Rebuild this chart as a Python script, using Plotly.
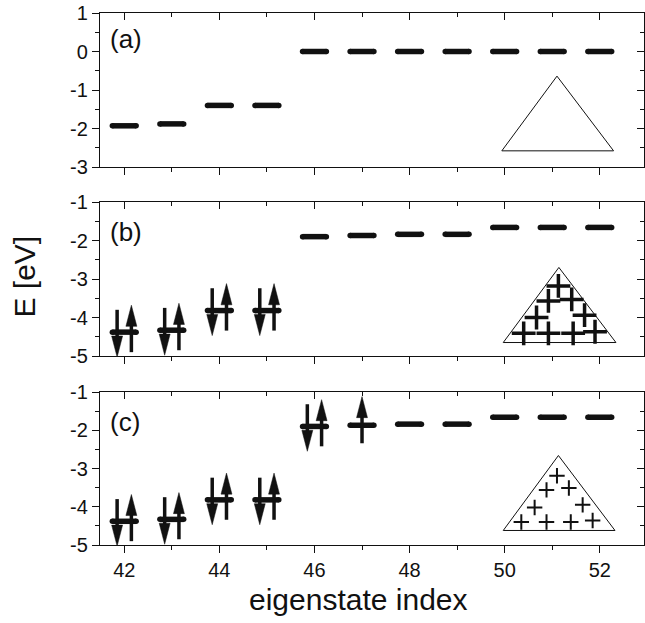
import plotly.graph_objects as go

# ---------------- data ----------------
index = [42, 43, 44, 45, 46, 47, 48, 49, 50, 51, 52]
E_a = [-1.93, -1.88, -1.40, -1.40, 0.0, 0.0, 0.0, 0.0, 0.0, 0.0, 0.0]
E_b = [-4.38, -4.33, -3.82, -3.82, -1.90, -1.87, -1.84, -1.84, -1.66, -1.66, -1.66]
E_c = [-4.38, -4.33, -3.82, -3.82, -1.90, -1.87, -1.84, -1.84, -1.66, -1.66, -1.66]
# occupation: 2 = spin down + spin up, 1 = spin up only, 0 = empty
occ_a = [0, 0, 0, 0, 0, 0, 0, 0, 0, 0, 0]
occ_b = [2, 2, 2, 2, 0, 0, 0, 0, 0, 0, 0]
occ_c = [2, 2, 2, 2, 2, 1, 0, 0, 0, 0, 0]
panel_labels = ["(a)", "(b)", "(c)"]
y_ranges = [[-3, 1], [-5, -1], [-5, -1]]
y_tickvals_a = [1, 0, -1, -2, -3]
y_ticktext_a = ["1", "0", "-1", "-2", "-3"]
y_tickvals_bc = [-1, -2, -3, -4, -5]
y_ticktext_bc = ["-1", "-2", "-3", "-4", "-5"]
x_tickvals = [42, 44, 46, 48, 50, 52]
x_ticktext = ["42", "44", "46", "48", "50", "52"]
x_range = [41.49, 52.93]
x_title = "eigenstate index"
y_title = "E [eV]"

# inset triangles (data coords of each panel): left, apex, right
tri_a = [(49.94, -2.58), (51.10, -0.64), (52.29, -2.58)]
tri_b = [(49.97, -4.65), (51.14, -2.70), (52.34, -4.65)]
tri_c = [(49.97, -4.62), (51.13, -2.66), (52.32, -4.62)]
# charges (+) inside the triangles
plus_b_x = [51.13, 50.92, 51.41, 50.67, 51.68, 50.40, 50.92, 51.44, 51.90]
plus_b_y = [-3.18, -3.57, -3.53, -4.00, -3.94, -4.41, -4.41, -4.41, -4.37]
plus_c_x = [51.10, 50.88, 51.35, 50.63, 51.64, 50.35, 50.88, 51.39, 51.85]
plus_c_y = [-3.19, -3.56, -3.51, -4.02, -3.95, -4.40, -4.40, -4.40, -4.36]

# ---------------- style ----------------
FONT = "Arial, Liberation Sans, Helvetica, sans-serif"
INK = "#111111"
HALF = 0.25          # half length of level dash (without round caps)
LEVEL_W = 5.5
HEAD_L = 0.55        # arrow head length (y units)
HEAD_W = 0.115       # arrow head half width (x units)

fig = go.Figure()

panels = [
    (3, E_a, occ_a, tri_a, [], [], 0, 0),
    (2, E_b, occ_b, tri_b, plus_b_x, plus_b_y, 17, 3.5),
    (1, E_c, occ_c, tri_c, plus_c_x, plus_c_y, 11, 2.0),
]


def arrow(x, y0, y1, shaft, heads):
    s = 1 if y1 > y0 else -1
    yb = y1 - s * HEAD_L
    shaft[0] += [x, x, None]
    shaft[1] += [y0, yb + s * 0.05, None]
    heads[0] += [x - HEAD_W, x + HEAD_W, x, x - HEAD_W, None]
    heads[1] += [yb, yb, y1, yb, None]


for k, E, occ, tri, px, py, psz, pw in panels:
    xa = "x" if k == 1 else f"x{k}"
    ya = "y" if k == 1 else f"y{k}"
    # level dashes (round caps emulated with end markers)
    lx, ly = [], []
    for i, e in zip(index, E):
        lx += [i - HALF, i + HALF, None]
        ly += [e, e, None]
    fig.add_trace(go.Scatter(x=lx, y=ly, mode="lines+markers", xaxis=xa, yaxis=ya,
                             line=dict(color=INK, width=LEVEL_W),
                             marker=dict(color=INK, size=LEVEL_W, line=dict(width=0)),
                             showlegend=False, hoverinfo="skip"))
    # spin arrows
    shaft, heads = [[], []], [[], []]
    for i, e, o in zip(index, E, occ):
        if o == 2:
            arrow(i - 0.15, e + 0.58, e - 0.65, shaft, heads)
            arrow(i + 0.15, e - 0.52, e + 0.70, shaft, heads)
        elif o == 1:
            arrow(i, e - 0.47, e + 0.75, shaft, heads)
    if shaft[0]:
        fig.add_trace(go.Scatter(x=shaft[0], y=shaft[1], mode="lines",
                                 xaxis=xa, yaxis=ya,
                                 line=dict(color=INK, width=3.5),
                                 showlegend=False, hoverinfo="skip"))
        fig.add_trace(go.Scatter(x=heads[0], y=heads[1], mode="lines",
                                 fill="toself", fillcolor=INK,
                                 xaxis=xa, yaxis=ya,
                                 line=dict(color=INK, width=0.5),
                                 showlegend=False, hoverinfo="skip"))
    # inset triangle
    tx = [p[0] for p in tri] + [tri[0][0]]
    ty = [p[1] for p in tri] + [tri[0][1]]
    fig.add_trace(go.Scatter(x=tx, y=ty, mode="lines", xaxis=xa, yaxis=ya,
                             line=dict(color=INK, width=1),
                             showlegend=False, hoverinfo="skip"))
    if px:
        fig.add_trace(go.Scatter(x=px, y=py, mode="markers", xaxis=xa, yaxis=ya,
                                 marker=dict(symbol="cross-thin", size=psz,
                                             line=dict(color=INK, width=pw)),
                                 showlegend=False, hoverinfo="skip"))
    # empty traces to realise mirror axes
    fig.add_trace(go.Scatter(x=[], y=[], xaxis=f"x{k+3}", yaxis=ya,
                             showlegend=False, hoverinfo="skip"))
    fig.add_trace(go.Scatter(x=[], y=[], xaxis=xa, yaxis=f"y{k+3}",
                             showlegend=False, hoverinfo="skip"))

# ---------------- layout ----------------
L, R, T, B = 100, 1, 13, 78
W, H = 645, 623
ph = H - T - B
def frac(px_top, px_bot):
    return [(H - B - px_bot) / ph, (H - B - px_top) / ph]

domains = {3: frac(13, 167), 2: frac(202, 356), 1: frac(392, 545)}
yr = {3: y_ranges[0], 2: y_ranges[1], 1: y_ranges[2]}
ytv = {3: y_tickvals_a, 2: y_tickvals_bc, 1: y_tickvals_bc}
ytt = {3: y_ticktext_a, 2: y_ticktext_bc, 1: y_ticktext_bc}
lab = {3: panel_labels[0], 2: panel_labels[1], 1: panel_labels[2]}
lab_y = {3: 0.828, 2: 0.805, 1: 0.804}

tickfont = dict(family=FONT, size=20, color=INK)
layout = dict(
    width=W, height=H, margin=dict(l=L, r=R, t=T, b=B),
    paper_bgcolor="white", plot_bgcolor="white", showlegend=False,
    font=dict(family=FONT, color=INK),
)
annotations = []
for k in (1, 2, 3):
    xs = "" if k == 1 else str(k)
    ys = "" if k == 1 else str(k)
    layout[f"xaxis{xs}"] = dict(
        domain=[0, 1], anchor=f"y{ys}", range=x_range, showgrid=False,
        zeroline=False, showline=True, linecolor=INK, linewidth=1.2,
        ticks="outside", ticklen=7, tickwidth=1.2, tickcolor=INK,
        tickmode="array", tickvals=x_tickvals, ticktext=x_ticktext,
        showticklabels=(k == 1), tickfont=tickfont,
        minor=dict(ticks="outside", ticklen=4, dtick=1, tick0=0,
                   tickcolor=INK, tickwidth=1.2, showgrid=False),
    )
    layout[f"yaxis{ys}"] = dict(
        domain=domains[k], anchor=f"x{xs}", range=yr[k], showgrid=False,
        zeroline=False, showline=True, linecolor=INK, linewidth=1.2,
        ticks="outside", ticklen=7, tickwidth=1.2, tickcolor=INK,
        tickmode="array", tickvals=ytv[k], ticktext=ytt[k],
        tickfont=tickfont, ticklabelstandoff=0,
        minor=dict(ticks="outside", ticklen=4, dtick=0.5, tick0=0,
                   tickcolor=INK, tickwidth=1.2, showgrid=False),
    )
    layout[f"xaxis{k+3}"] = dict(
        overlaying=f"x{xs}", anchor=f"y{ys}", side="top", range=x_range,
        showgrid=False, zeroline=False, showline=True, linecolor=INK,
        linewidth=1.2, ticks="inside", ticklen=7, tickwidth=1.2,
        tickcolor=INK, dtick=2, tick0=0, showticklabels=False,
        minor=dict(ticks="inside", ticklen=4, dtick=1, tick0=0,
                   tickcolor=INK, tickwidth=1.2, showgrid=False),
    )
    layout[f"yaxis{k+3}"] = dict(
        overlaying=f"y{ys}", anchor=f"x{xs}", side="right", range=yr[k],
        showgrid=False, zeroline=False, showline=True, linecolor=INK,
        linewidth=1.2, ticks="inside", ticklen=7, tickwidth=1.2,
        tickcolor=INK, dtick=1, tick0=0, showticklabels=False,
        minor=dict(ticks="inside", ticklen=4, dtick=0.5, tick0=0,
                   tickcolor=INK, tickwidth=1.2, showgrid=False),
    )
    annotations.append(dict(
        text=lab[k], xref=f"x{xs} domain", yref=f"y{ys} domain",
        x=0.015, y=lab_y[k], xanchor="left", yanchor="middle",
        showarrow=False, font=dict(family=FONT, size=26, color=INK)))

annotations.append(dict(
    text=x_title, xref="paper", yref="paper", x=0.4756, y=-0.103,
    xanchor="center", yanchor="middle", showarrow=False,
    font=dict(family=FONT, size=30, color=INK)))
annotations.append(dict(
    text=y_title, xref="paper", yref="paper", x=(24 - L) / (W - L - R),
    y=(H - B - 276.5) / ph, xanchor="center", yanchor="middle",
    textangle=-90, showarrow=False,
    font=dict(family=FONT, size=30, color=INK)))
layout["annotations"] = annotations

fig.update_layout(**layout)
fig.write_html("out.html")
